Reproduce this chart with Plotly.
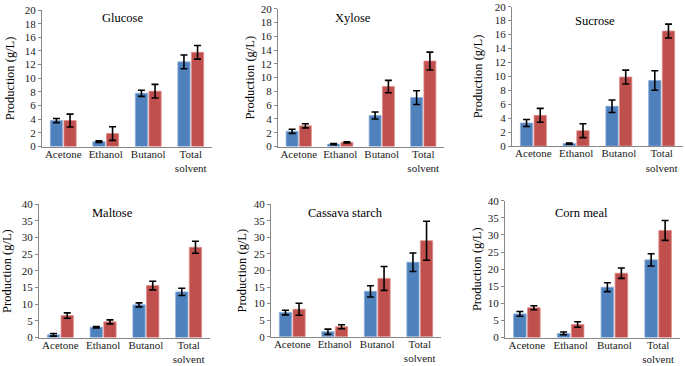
import plotly.graph_objects as go

W, H = 685, 366

categories = ["Acetone", "Ethanol", "Butanol", "Total<br>solvent"]
panel_titles = ["Glucose", "Xylose", "Sucrose", "Maltose", "Cassava starch", "Corn meal"]

glucose_blue = [3.8, 0.7, 7.8, 12.4]
glucose_blue_err = [0.3, 0.12, 0.45, 1.0]
glucose_red = [3.8, 1.9, 8.1, 13.8]
glucose_red_err = [0.95, 1.0, 1.0, 1.0]

xylose_blue = [2.2, 0.35, 4.5, 7.1]
xylose_blue_err = [0.3, 0.08, 0.5, 1.0]
xylose_red = [3.0, 0.6, 8.7, 12.4]
xylose_red_err = [0.3, 0.08, 0.9, 1.3]

sucrose_blue = [3.3, 0.35, 5.7, 9.4]
sucrose_blue_err = [0.5, 0.08, 0.9, 1.4]
sucrose_red = [4.4, 2.2, 9.9, 16.5]
sucrose_red_err = [1.0, 1.0, 1.0, 1.0]

maltose_blue = [0.8, 3.1, 9.8, 13.7]
maltose_blue_err = [0.4, 0.2, 0.6, 1.1]
maltose_red = [6.6, 4.7, 15.6, 27.1]
maltose_red_err = [0.8, 0.6, 1.3, 1.8]

cassava_blue = [7.3, 1.5, 13.7, 22.5]
cassava_blue_err = [0.7, 0.8, 1.7, 2.8]
cassava_red = [8.3, 3.0, 17.6, 29.0]
cassava_red_err = [1.8, 0.6, 3.6, 5.9]

corn_blue = [6.9, 1.2, 14.7, 22.7]
corn_blue_err = [0.7, 0.4, 1.3, 1.8]
corn_red = [8.7, 3.8, 18.8, 31.3]
corn_red_err = [0.6, 0.8, 1.5, 2.9]

series = [
    (glucose_blue, glucose_blue_err, glucose_red, glucose_red_err),
    (xylose_blue, xylose_blue_err, xylose_red, xylose_red_err),
    (sucrose_blue, sucrose_blue_err, sucrose_red, sucrose_red_err),
    (maltose_blue, maltose_blue_err, maltose_red, maltose_red_err),
    (cassava_blue, cassava_blue_err, cassava_red, cassava_red_err),
    (corn_blue, corn_blue_err, corn_red, corn_red_err),
]

y_max = [20, 20, 20, 40, 40, 40]
y_step = [2, 2, 2, 5, 5, 5]

# panel pixel boxes: x0, x1, ytop, ybottom
boxes = [
    (42, 212, 10, 146.5),
    (278, 444, 8.7, 146.5),
    (512, 683, 6.7, 146),
    (39, 210, 204.3, 337.5),
    (271, 441, 204.3, 336.7),
    (505, 680, 200.7, 337.5),
]
title_pos = [(122, 18), (353, 18), (595, 21), (113, 213), (345, 213), (581, 213)]
ytitle_x = [10, 250, 478, 7, 241, 477]

BLUE = "#4F81BD"
RED = "#C0504D"
FONT = "Liberation Serif"

fig = go.Figure()
layout = dict(
    width=W, height=H, margin=dict(l=0, r=0, t=0, b=0, pad=0), autosize=False,
    paper_bgcolor="white", plot_bgcolor="white", showlegend=False,
    barmode="group", bargap=0.36, bargroupgap=0.1,
    font=dict(family=FONT, size=11, color="#222"),
)
annotations = []
for i, (b, be, r, re) in enumerate(series):
    n = i + 1
    xa = "x" if n == 1 else f"x{n}"
    ya = "y" if n == 1 else f"y{n}"
    fig.add_trace(go.Bar(x=categories, y=b, xaxis=xa, yaxis=ya,
                         marker=dict(color=BLUE, line=dict(color="#8EAEDB", width=0.8)),
                         error_y=dict(type="data", array=be, color="black", thickness=1.6, width=3.5)))
    fig.add_trace(go.Bar(x=categories, y=r, xaxis=xa, yaxis=ya,
                         marker=dict(color=RED, line=dict(color="#DE8E8C", width=0.8)),
                         error_y=dict(type="data", array=re, color="black", thickness=1.6, width=3.5)))
    x0, x1, yt, yb = boxes[i]
    layout[f"xaxis{'' if n == 1 else n}"] = dict(
        domain=[x0 / W, x1 / W], anchor=ya, type="category", automargin=False,
        showline=True, linecolor="#888", linewidth=1, ticks="",
        showgrid=False, tickfont=dict(family=FONT, size=11, color="#222"),
        ticklabelstandoff=-3,
    )
    layout[f"yaxis{'' if n == 1 else n}"] = dict(
        domain=[1 - yb / H, 1 - yt / H], anchor=xa, automargin=False,
        range=[0, y_max[i]], dtick=y_step[i], tick0=0,
        showline=True, linecolor="#888", linewidth=1, ticks="outside",
        ticklen=3, tickcolor="#888", showgrid=False, zeroline=False,
        tickfont=dict(family=FONT, size=11, color="#222"),
    )
    tx, ty = title_pos[i]
    annotations.append(dict(text=panel_titles[i], x=tx / W, y=1 - ty / H,
                            xref="paper", yref="paper", showarrow=False,
                            xanchor="center", yanchor="middle",
                            font=dict(family=FONT, size=12.5, color="black")))
    annotations.append(dict(text="Production (g/L)", x=ytitle_x[i] / W,
                            y=1 - (yt + yb) / 2 / H, xref="paper", yref="paper",
                            showarrow=False, textangle=-90,
                            xanchor="center", yanchor="middle",
                            font=dict(family=FONT, size=12.5, color="black")))
layout["annotations"] = annotations
fig.update_layout(**layout)
fig.write_html("out.html", config={"displayModeBar": False},
               post_script="document.body.style.margin='0';document.body.style.overflow='hidden';")
